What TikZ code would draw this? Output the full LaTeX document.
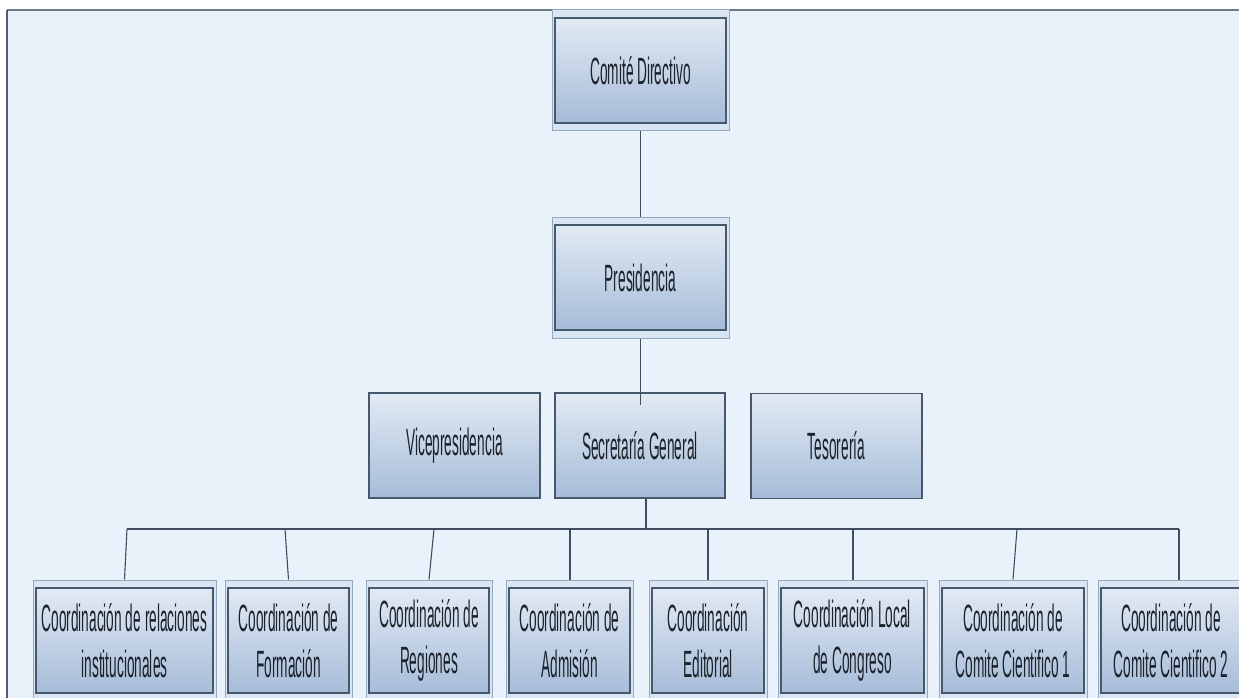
\documentclass[tikz,border=0pt]{standalone}
\usepackage{fontspec}
\setmainfont{Liberation Sans}[FakeStretch=0.36]
\definecolor{bgc}{HTML}{E9F1FB}
\definecolor{boxtop}{HTML}{E2EAF4}
\definecolor{boxbot}{HTML}{A6BCD8}
\definecolor{boxline}{HTML}{46586C}
\definecolor{frameline}{HTML}{95AAC0}
\definecolor{framefill}{HTML}{D9E5F2}
\definecolor{txt}{HTML}{1C222B}
\definecolor{connline}{HTML}{3E4E5E}
\definecolor{topline}{HTML}{6E7A86}
\definecolor{leftline}{HTML}{4E5E70}
\tikzset{
  box/.style={draw=boxline, line width=1.3pt, top color=boxtop, bottom color=boxbot,
    minimum width=#1, minimum height=105pt, inner sep=0pt, align=center, text=txt,
    font=\fontsize{38}{46}\selectfont},
  box/.default=171pt,
  frame/.style={draw=frameline, line width=1pt, fill=framefill,
    minimum width=#1, minimum height=121pt, inner sep=0pt},
  frame/.default=177pt,
  conn/.style={draw=connline, line width=1.1pt}
}
\begin{document}
\begin{tikzpicture}[x=1pt,y=-1pt]
\useasboundingbox (0,0) rectangle (1239,698);
\fill[white] (0,0) rectangle (1239,698);
\fill[bgc] (7,10) rectangle (1239,698);
\draw[line width=2pt, topline] (7,10) -- (1239,10);
\draw[line width=1.5pt, leftline] (7,10) -- (7,698);

% top levels
\node[frame] (cdf) at (640.5,70) {};
\node[box] (cd) at (640.5,70.5) {Comité Directivo};
\node[frame] (prf) at (640.5,277.5) {};
\node[box] (pr) at (640.5,277.5) {Presidencia};

% second row
\node[box] (vp) at (454.5,445.5) {Vicepresidencia};
\node[box=170pt] (sg) at (640,445.5) {Secretaría General};
\node[box] (te) at (836.5,446) {Tesorería};

% bottom row
\node[frame=183pt] (b1f) at (124.5,640.5) {};
\node[box=177pt] (b1) at (124.5,640.5) {Coordinación de relaciones\\institucionales};
\node[frame=127pt] (b2f) at (288.5,640.5) {};
\node[box=121pt] (b2) at (288.5,640.5) {Coordinación de\\Formación};
\node[frame=126pt] (b3f) at (429,640.5) {};
\node[box=120pt] (b3) at (429,640.5) {Coordinación de\\Regiones};
\node[frame=127pt] (b4f) at (569.5,640.5) {};
\node[box=121pt] (b4) at (569.5,640.5) {Coordinación de\\Admisión};
\node[frame=118pt] (b5f) at (708,640.5) {};
\node[box=112pt] (b5) at (708,640.5) {Coordinación\\Editorial};
\node[frame=149pt] (b6f) at (852.5,640.5) {};
\node[box=143pt] (b6) at (852.5,640.5) {Coordinación Local\\de Congreso};
\node[frame=148pt] (b7f) at (1013,640.5) {};
\node[box=142pt] (b7) at (1013,640.5) {Coordinación de\\Comite Cientifico 1};
\node[frame=146pt] (b8f) at (1171,640.5) {};
\node[box=140pt] (b8) at (1171,640.5) {Coordinación de\\Comite Cientifico 2};

% connectors
\draw[conn] (cdf.south) -- (prf.north);
\coordinate (sgin) at (640.5,405);
\draw[conn] (prf.south) -- (sgin);
\coordinate (busS) at (646,529);
\draw[conn] (busS |- sg.south) -- (busS);
\coordinate (d1) at (127,529);
\coordinate (d2) at (285,529);
\coordinate (d3) at (434,529);
\coordinate (d4) at (570,529);
\coordinate (d5) at (708,529);
\coordinate (d6) at (853,529);
\coordinate (d7) at (1017,529);
\coordinate (d8) at (1179,529);
\draw[conn] (d1) -- (d8);
\draw[conn] (d1) -- (b1f.north);
\draw[conn] (d2) -- (b2f.north);
\draw[conn] (d3) -- (b3f.north);
\draw[conn] (d4) -- (d4 |- b4f.north);
\draw[conn] (d5) -- (d5 |- b5f.north);
\draw[conn] (d6) -- (d6 |- b6f.north);
\draw[conn] (d7) -- (b7f.north);
\draw[conn] (d8) -- (d8 |- b8f.north);
\end{tikzpicture}
\end{document}
